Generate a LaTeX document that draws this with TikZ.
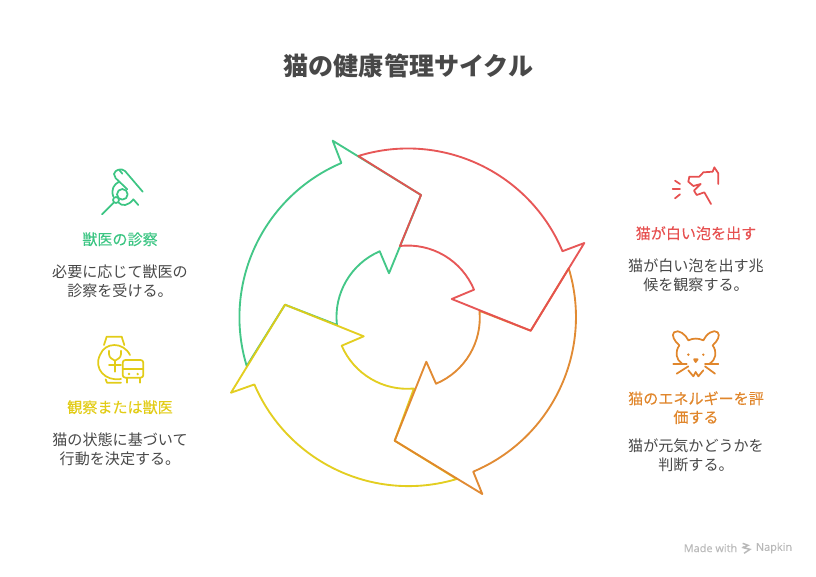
\documentclass[tikz,border=0pt]{standalone}
\usepackage{fontspec}
\setmainfont{Noto Sans CJK JP}
\newfontfamily\headfont[FakeBold=0.1]{Noto Sans CJK JP}
\newfontfamily\latinfont[FakeBold=0.15]{Open Sans}
\definecolor{vetgreen}{RGB}{60,197,131}
\definecolor{foamred}{RGB}{230,80,80}
\definecolor{energyorange}{RGB}{224,134,44}
\definecolor{watchyellow}{RGB}{226,204,24}
\definecolor{bodygray}{RGB}{72,72,72}
\definecolor{markgray}{RGB}{185,185,185}
\tikzset{
  cycleline/.style={line width=1.4pt,line join=round,draw opacity=0.96},
  iconline/.style={line width=1.3pt,line cap=round,line join=round},
  headtext/.style={font=\headfont\fontsize{11.3}{14}\selectfont,align=center},
  bodytext/.style={font=\fontsize{11.3}{14.3}\selectfont,align=center,text=bodygray},
  marktext/.style={font=\latinfont\fontsize{8.2}{9}\selectfont,text=markgray},
}
\begin{document}
\begin{tikzpicture}[x=0.75pt,y=0.75pt,yscale=-1]
\useasboundingbox (0,0) rectangle (816,576);

%Green arrow
\draw [cycleline,color=vetgreen] (246.7,366) arc[start angle=163.1,end angle=246.9,radius=167.7] -- (332.7,140.7) -- (421,195) -- (389,273.3) -- (379.7,251.3) arc[start angle=246.7,end angle=173.7,radius=71.5] -- (285,304.7) -- cycle ;
%Yellow arrow
\draw [cycleline,color=watchyellow] (456.7,479) arc[start angle=73.3,end angle=156.8,radius=167.7] -- (231,392.7) -- (285,304.7) -- (363.7,336.3) -- (341.7,345.7) arc[start angle=156.6,end angle=84.7,radius=71.5] -- (394.7,440.7) -- cycle ;
%Orange arrow
\draw [cycleline,color=energyorange] (568.7,268.3) arc[start angle=-16.9,end angle=67.2,radius=167.7] -- (482.3,494) -- (394.7,440.7) -- (426.3,361.7) -- (436,383.7) arc[start angle=67.2,end angle=-5.6,radius=71.5] -- (530.7,330.7) -- cycle ;
%Red arrow
\draw [cycleline,color=foamred] (358.3,156) arc[start angle=252.8,end angle=337.2,radius=167.7] -- (584.3,243) -- (530.7,330.7) -- (451.7,299) -- (474,289.7) arc[start angle=337.5,end angle=263.6,radius=71.5] -- (421,195) -- cycle ;

%Vet hand icon
\begin{scope}[shift={(90,160)},scale=0.3333,iconline,color=vetgreen]
\draw (158,95) -- (105,33) .. controls (95,24) and (75,28) .. (72,42) .. controls (72,52) and (80,58) .. (88,65) .. controls (72,72) and (62,88) .. (70,110) ;
\draw (88,30) -- (97,41) ;
\draw (88,65) -- (112,88) ;
\draw (97,103) circle (16) ;
\draw (78,120) circle (9) ;
\draw (36,163) -- (72,127) ;
\draw (85,127) .. controls (95,140) and (115,138) .. (130,118) -- (145,135) ;
\end{scope}

%Watch icon
\begin{scope}[shift={(85,330)},scale=0.3333,iconline,color=watchyellow]
\draw (135,75) .. controls (115,35) and (60,35) .. (45,75) .. controls (25,115) and (60,155) .. (108,147) ;
\draw (57,45) -- (65,20) -- (110,20) -- (118,45) ;
\draw (62,148) -- (66,158) -- (108,158) ;
\draw (72,62) -- (72,72) .. controls (72,85) and (85,88) .. (90,92) .. controls (95,88) and (108,85) .. (108,72) -- (108,62) ;
\draw (90,92) -- (90,125) ;
\draw (72,105) -- (108,105) ;
\draw [rounded corners=2pt] (113,90) rectangle (175,143) ;
\draw (113,117) -- (175,117) ;
\draw (125,143) -- (125,158) ;
\draw (165,143) -- (165,158) ;
\fill (132,132) circle (4) ;
\fill (158,132) circle (4) ;
\end{scope}

%Dog icon
\begin{scope}[shift={(660,160)},scale=0.3333,iconline,color=foamred]
\draw (175,72) -- (175,40) -- (163,22) -- (158,35) -- (130,37) -- (118,50) -- (88,50) -- (85,65) -- (100,78) -- (122,72) -- (102,92) -- (110,105) -- (133,97) -- (153,132) ;
\draw (45,62) -- (60,72) ;
\draw (38,87) -- (60,87) ;
\draw (45,115) -- (60,103) ;
\end{scope}

%Cat icon
\begin{scope}[shift={(660,322)},scale=0.3333,iconline,color=energyorange]
\draw (58,70) .. controls (44,58) and (33,40) .. (42,31) .. controls (55,20) and (78,38) .. (85,55) .. controls (100,48) and (115,48) .. (130,55) .. controls (138,36) and (162,20) .. (173,31) .. controls (182,40) and (172,58) .. (158,70) .. controls (172,90) and (168,112) .. (150,124) ;
\draw (58,70) .. controls (44,90) and (48,112) .. (65,124) ;
\draw (40,125) -- (80,125) ;
\draw (50,155) -- (85,133) ;
\draw (135,125) -- (175,125) ;
\draw (135,133) -- (165,155) ;
\draw (85,145) -- (100,163) -- (107,150) -- (115,163) -- (130,145) ;
\draw (102,112) -- (113,112) -- (107,120) -- cycle ;
\fill (85,98) circle (4) ;
\fill (130,98) circle (4) ;
\end{scope}

%Napkin mark
\begin{scope}[shift={(670,530)},scale=0.3333,line width=1.1pt,color=markgray]
\draw (218,40) -- (234,46) -- (220,53) -- (240,58) -- (222,70) ;
\draw (218,50) -- (228,55) ;
\end{scope}

% Text Node
\draw (408.5,65.5) node (title) [font=\fontsize{18.8}{22}\selectfont\bfseries,text=bodygray] {猫の健康管理サイクル};
% Text Node
\draw (120,239.2) node (vethead) [headtext,text=vetgreen] {獣医の診察};
% Text Node
\draw (120,281.7) node (vetbody) [bodytext] {必要に応じて獣医の\\診察を受ける。};
% Text Node
\draw (120,407.2) node (watchhead) [headtext,text=watchyellow] {観察または獣医};
% Text Node
\draw (120,449.7) node (watchbody) [bodytext] {猫の状態に基づいて\\行動を決定する。};
% Text Node
\draw (696,233.2) node (foamhead) [headtext,text=foamred] {猫が白い泡を出す};
% Text Node
\draw (696,275.7) node (foambody) [bodytext] {猫が白い泡を出す兆\\候を観察する。};
% Text Node
\draw (696,407.7) node (energyhead) [headtext,text=energyorange] {猫のエネルギーを評\\価する};
% Text Node
\draw (696,455.7) node (energybody) [bodytext] {猫が元気かどうかを\\判断する。};
% Text Node
\draw (710.5,548) node (madewith) [marktext] {Made with};
% Text Node
\draw (774,548) node (napkin) [marktext] {Napkin};

\end{tikzpicture}
\end{document}
